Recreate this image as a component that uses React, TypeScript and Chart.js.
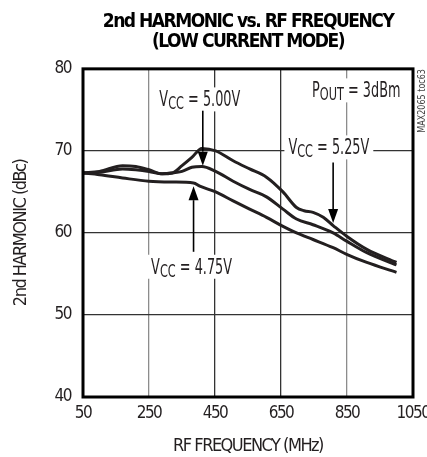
import React, { useEffect, useRef } from "react";
import { Chart, registerables } from "chart.js";

Chart.register(...registerables);

// ---- data ----
const freq525 = [50, 100, 170, 210, 250, 290, 320, 350, 380, 410, 452, 505, 555, 606, 656, 697, 720, 747, 778, 808, 849, 910, 1000];
const vcc525 = [67.3, 67.5, 68.2, 68.1, 67.7, 67.2, 67.3, 68.2, 69.2, 70.3, 70.0, 68.8, 67.8, 66.8, 65.0, 63.1, 62.7, 62.5, 61.9, 60.9, 59.6, 58.0, 56.4];

const freq500 = [50, 100, 170, 210, 250, 290, 320, 350, 380, 410, 452, 505, 555, 606, 656, 697, 747, 808, 849, 910, 1000];
const vcc500 = [67.3, 67.4, 67.8, 67.7, 67.5, 67.2, 67.3, 67.5, 68.0, 68.1, 67.5, 66.3, 65.3, 64.4, 62.9, 61.7, 61.0, 60.0, 59.0, 57.6, 56.1];

const freq475 = [50, 100, 170, 250, 320, 385, 404, 452, 505, 555, 606, 656, 697, 747, 808, 849, 910, 1000];
const vcc475 = [67.3, 67.1, 66.7, 66.3, 66.2, 66.1, 65.7, 65.0, 63.9, 62.9, 61.9, 60.8, 60.0, 59.2, 58.2, 57.4, 56.4, 55.2];

const xTicks = [50, 250, 450, 650, 850, 1050];
const yTicks = [40, 50, 60, 70, 80];

const titleLines = ["2nd HARMONIC vs. RF FREQUENCY", "(LOW CURRENT MODE)"];
const xTitle = "RF FREQUENCY (MHz)";
const yTitle = "2nd HARMONIC (dBc)";
const sideNote = "MAX2065 toc63";

// annotation labels: [main, subscript, rest], anchored at (freq, dBc) = text centre
const labelParts = [
  ["V", "CC", " = 5.00V"],
  ["P", "OUT", " = 3dBm"],
  ["V", "CC", " = 5.25V"],
  ["V", "CC", " = 4.75V"],
];
const labelFreq = [404, 878, 795, 379];
const labelDb = [76.4, 77.5, 70.55, 56.0];

// arrows: x (freq), from dB, to dB (tip)
const arrowFreq = [413, 808, 385];
const arrowFrom = [74.9, 68.6, 57.7];
const arrowTo = [68.2, 61.2, 65.7];

const FONT = "'Liberation Sans Narrow', 'DejaVu Sans Condensed', 'Liberation Sans', sans-serif";
const INK = "#231f20";
const SPACING = "-1.5px";
const LABEL_SQUEEZE = 0.68;

function toPoints(xs: number[], ys: number[]) {
  return xs.map((x, i) => ({ x, y: ys[i] }));
}

const spacing = {
  id: "spacing",
  beforeInit(chart: any) {
    chart.ctx.letterSpacing = SPACING;
  },
  beforeUpdate(chart: any) {
    chart.ctx.letterSpacing = SPACING;
  },
  beforeDraw(chart: any) {
    chart.ctx.letterSpacing = SPACING;
  },
};

const overlay = {
  id: "overlay",
  afterDatasetsDraw(chart: any) {
    const { ctx, chartArea, scales } = chart;
    const xs = scales.x;
    const ys = scales.y;
    ctx.save();
    // plot frame
    ctx.strokeStyle = "#000";
    ctx.lineWidth = 3;
    ctx.strokeRect(chartArea.left, chartArea.top, chartArea.right - chartArea.left, chartArea.bottom - chartArea.top);

    // labels (condensed by horizontal squeeze)
    ctx.letterSpacing = "0px";
    const big = `21px ${FONT}`;
    const small = `18.5px ${FONT}`;
    labelParts.forEach((parts, i) => {
      ctx.font = big;
      const w0 = ctx.measureText(parts[0]).width;
      const w2 = ctx.measureText(parts[2]).width;
      ctx.font = small;
      const w1 = ctx.measureText(parts[1]).width;
      const total = (w0 + w1 + w2) * LABEL_SQUEEZE;
      const cx = xs.getPixelForValue(labelFreq[i]);
      const cy = ys.getPixelForValue(labelDb[i]);
      const left = cx - total / 2;
      const base = cy + 8;
      ctx.fillStyle = "#fff";
      ctx.fillRect(left - 4, cy - 11, total + 8, 24);
      ctx.save();
      ctx.translate(left, base);
      ctx.scale(LABEL_SQUEEZE, 1);
      ctx.fillStyle = INK;
      ctx.textBaseline = "alphabetic";
      ctx.textAlign = "left";
      ctx.font = big;
      ctx.fillText(parts[0], 0, 0);
      ctx.font = small;
      ctx.fillText(parts[1], w0, 3);
      ctx.font = big;
      ctx.fillText(parts[2], w0 + w1, 0);
      ctx.restore();
    });

    // arrows
    arrowFreq.forEach((f, i) => {
      const x = xs.getPixelForValue(f);
      const y0 = ys.getPixelForValue(arrowFrom[i]);
      const y1 = ys.getPixelForValue(arrowTo[i]);
      const dir = y1 > y0 ? 1 : -1;
      const headLen = 14;
      const headHalf = 5;
      ctx.strokeStyle = "#000";
      ctx.lineWidth = 1.6;
      ctx.beginPath();
      ctx.moveTo(x, y0);
      ctx.lineTo(x, y1 - dir * headLen);
      ctx.stroke();
      ctx.fillStyle = "#000";
      ctx.beginPath();
      ctx.moveTo(x, y1);
      ctx.lineTo(x - headHalf, y1 - dir * headLen);
      ctx.lineTo(x + headHalf, y1 - dir * headLen);
      ctx.closePath();
      ctx.fill();
    });

    // side note
    ctx.translate(chartArea.right + 9, chartArea.top + 32);
    ctx.rotate(-Math.PI / 2);
    ctx.scale(0.85, 1);
    ctx.font = `10.5px ${FONT}`;
    ctx.fillStyle = "#444";
    ctx.textAlign = "center";
    ctx.textBaseline = "middle";
    ctx.fillText(sideNote, 0, 0);
    ctx.restore();
  },
};

export default function App() {
  const ref = useRef<HTMLCanvasElement | null>(null);
  useEffect(() => {
    if (!ref.current) return;
    const lineStyle = {
      borderColor: INK,
      borderWidth: 3,
      pointRadius: 0,
      fill: false,
      cubicInterpolationMode: "monotone" as const,
    };
    const chart = new Chart(ref.current, {
      type: "line",
      data: {
        datasets: [
          { label: "VCC = 5.25V", data: toPoints(freq525, vcc525), ...lineStyle },
          { label: "VCC = 5.00V", data: toPoints(freq500, vcc500), ...lineStyle },
          { label: "VCC = 4.75V", data: toPoints(freq475, vcc475), ...lineStyle },
        ],
      },
      options: {
        responsive: false,
        animation: false,
        layout: { padding: { left: 0, right: 14, top: 0, bottom: 0 } },
        plugins: {
          legend: { display: false },
          tooltip: { enabled: false },
          title: {
            display: true,
            text: titleLines,
            fullSize: false,
            color: "#000",
            font: { family: FONT, size: 19, weight: "bold", lineHeight: 1.07 },
            padding: { top: 11.5, bottom: 16.7 },
          },
        },
        scales: {
          x: {
            type: "linear",
            min: 50,
            max: 1050,
            afterBuildTicks: (s: any) => {
              s.ticks = xTicks.map((v) => ({ value: v }));
            },
            afterFit: (s: any) => {
              s.height = 60;
              s.paddingRight = 14;
            },
            ticks: {
              color: INK,
              padding: 6,
              font: { family: FONT, size: 17 },
              callback: (v: any) => String(v),
            },
            grid: {
              drawTicks: false,
              lineWidth: 1.3,
              color: (c: any) => (c.index === 1 || c.index === 4 ? "#8c8c8c" : "#333"),
            },
            border: { display: false },
            title: {
              display: true,
              text: xTitle,
              color: INK,
              font: { family: FONT, size: 18 },
              padding: { top: 0, bottom: 0 },
            },
          },
          y: {
            min: 40,
            max: 80,
            afterBuildTicks: (s: any) => {
              s.ticks = yTicks.map((v) => ({ value: v }));
            },
            afterFit: (s: any) => {
              s.width = 83;
            },
            ticks: {
              color: INK,
              padding: 12,
              font: { family: FONT, size: 17 },
              callback: (v: any) => String(v),
            },
            grid: { drawTicks: false, lineWidth: 1.3, color: "#333" },
            border: { display: false },
            title: {
              display: true,
              text: yTitle,
              color: INK,
              font: { family: FONT, size: 18 },
              padding: { top: 10.5, bottom: 0 },
            },
          },
        },
      },
      plugins: [spacing, overlay],
    });
    return () => chart.destroy();
  }, []);

  return (
    <div style={{ position: "absolute", left: 0, top: 0, width: 427, height: 457, background: "#fff" }}>
      <canvas ref={ref} width={427} height={457} style={{ display: "block" }} />
    </div>
  );
}
